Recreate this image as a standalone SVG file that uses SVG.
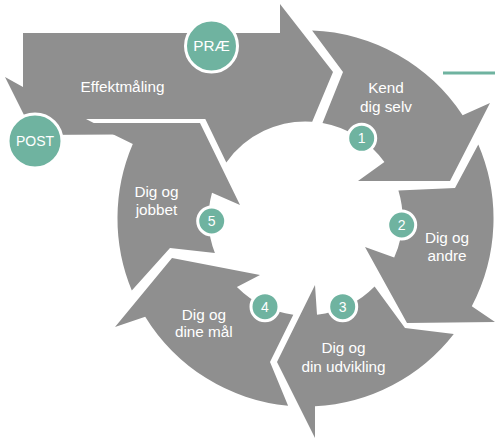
<svg xmlns="http://www.w3.org/2000/svg" width="495" height="439" viewBox="0 0 495 439">
<style>
.seg{fill:#8f8f8f}
.lbl{font-family:"Liberation Sans",Arial,sans-serif;font-size:15.3px;fill:#ffffff;text-anchor:middle}
.num{font-family:"Liberation Sans",Arial,sans-serif;font-size:14px;fill:#ffffff;text-anchor:middle}
.badge{fill:#6fb3a0;stroke:#ffffff;stroke-width:3}
</style>
<rect width="495" height="439" fill="#ffffff"/>
<g id="effektmaling">
<path class="seg" d="M23,33 L280,33 L280,4 L333,72 L312.2,121.7 A97,97 0 0 0 226.3,162.5 L205.3,119 L86,119 L116,134.5 L34,135 L5,77 L23,87 Z"/>
<text class="lbl" x="122.5" y="92">Effektmåling</text>
</g>
<g id="seg1">
<path class="seg" d="M312.1,30.6 L343,72 L322.5,123 A97,97 0 0 1 384.4,162 L358,181 L450,181 L490,103 L462.6,115.3 A188,188 0 0 0 312.1,30.6 Z"/>
<text class="lbl" x="386" y="93.3">Kend</text>
<text class="lbl" x="386" y="111.7">dig selv</text>
</g>
<g id="seg2">
<path class="seg" d="M478.3,144.4 L455,188 L398.4,190.5 A97,97 0 0 1 394.2,257.6 L365,247 L407,323 L495,322 L471.8,306.2 A188,188 0 0 0 478.3,144.4 Z"/>
<text class="lbl" x="447" y="243.3">Dig og</text>
<text class="lbl" x="447" y="261">andre</text>
</g>
<g id="seg3">
<path class="seg" d="M453.8,334 L405,328 L374.6,286.6 A97,97 0 0 1 317,314.8 L315,285 L277,362 L315,438 L315,406.3 A188,188 0 0 0 453.8,334 Z"/>
<text class="lbl" x="343.5" y="353.3">Dig og</text>
<text class="lbl" x="343.5" y="371.7">din udvikling</text>
</g>
<g id="seg4">
<path class="seg" d="M288.1,405.7 L270,362 L293.3,314.7 A97,97 0 0 1 236.9,287.1 L260,275 L172,258 L115,327 L145.2,316.7 A188,188 0 0 0 288.1,405.7 Z"/>
<text class="lbl" x="203.8" y="320">Dig og</text>
<text class="lbl" x="203.8" y="337.3">dine mål</text>
</g>
<g id="seg5">
<path class="seg" d="M131.8,290.4 L170,248 L214.9,253.1 A97,97 0 0 1 212,192.7 L240,205 L200,123 L90,123 L132.8,144.1 A188,188 0 0 0 131.8,290.4 Z"/>
<text class="lbl" x="156.5" y="197.3">Dig og</text>
<text class="lbl" x="156.5" y="215">jobbet</text>
</g>
<g id="connectors">
<line x1="443" y1="73" x2="495" y2="73" stroke="#6fb3a0" stroke-width="3"/>
</g>
<g id="pre">
<circle class="badge" cx="211.5" cy="46" r="26"/>
<text class="lbl" x="211.5" y="50.5">PRÆ</text>
</g>
<g id="post">
<circle class="badge" cx="35" cy="141" r="27"/>
<text class="lbl" x="35" y="146" style="font-size:14px">POST</text>
</g>
<g id="n1"><circle class="badge" cx="361.7" cy="138.3" r="14"/><text class="num" x="361.7" y="143.3">1</text></g>
<g id="n2"><circle class="badge" cx="401.7" cy="225" r="14"/><text class="num" x="401.7" y="230">2</text></g>
<g id="n3"><circle class="badge" cx="342.7" cy="306.7" r="14"/><text class="num" x="342.7" y="311.7">3</text></g>
<g id="n4"><circle class="badge" cx="265" cy="306.7" r="14"/><text class="num" x="265" y="311.7">4</text></g>
<g id="n5"><circle class="badge" cx="211.7" cy="221" r="14"/><text class="num" x="211.7" y="226">5</text></g>
</svg>
